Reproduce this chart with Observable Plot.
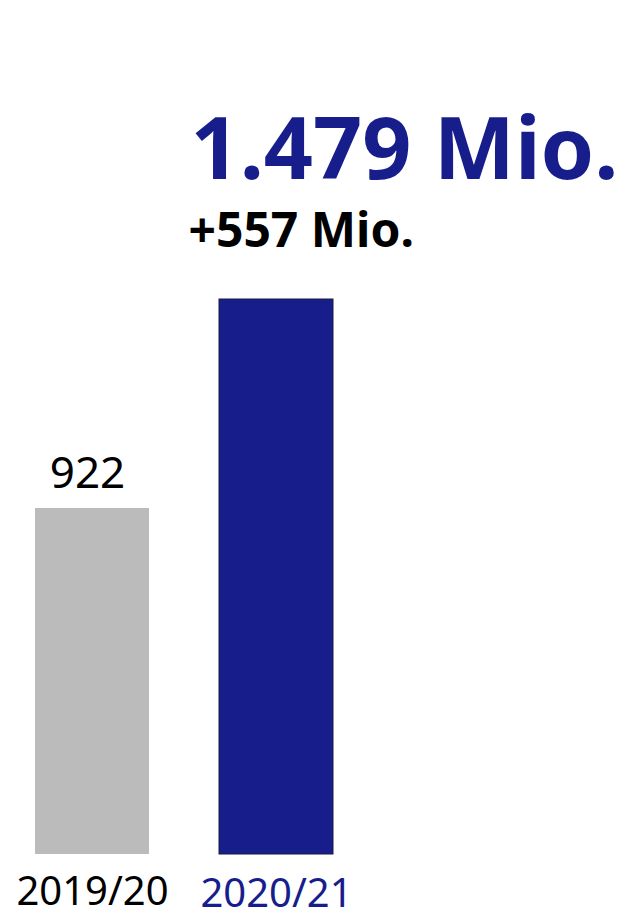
<!DOCTYPE html>
<html>
<head>
<meta charset="utf-8">
<script src="https://cdn.jsdelivr.net/npm/d3@7"></script>
<script src="https://cdn.jsdelivr.net/npm/@observablehq/plot@0.6"></script>
<style>
  html, body { margin: 0; padding: 0; background: #fff; }
  #chart svg { display: block; }
</style>
</head>
<body>
<div id="chart"></div>
<script>
const categories = ["2019/20", "2020/21"];
const values = [922, 1479];
const valueLabels = ["922", ""];
const headline = "1.479 Mio.";
const delta = "+557 Mio.";

const data = categories.map((c, i) => ({ year: c, value: values[i], label: valueLabels[i] }));
const blue = "#171e8c";
const gray = "#bbbbbc";

const chart = Plot.plot({
  width: 623,
  height: 913,
  margin: 0,
  style: { fontFamily: "'Noto Sans', 'Open Sans', sans-serif", background: "#fff" },
  x: { type: "band", domain: categories, range: [35, 333.5], paddingInner: 0.382, paddingOuter: 0, align: 0, axis: null },
  y: { domain: [0, 1479], range: [854, 299], axis: null },
  marks: [
    Plot.barY(data.slice(0, 1), { x: "year", y: "value", fill: gray }),
    Plot.barY(data.slice(1), { x: "year", y: "value", fill: blue, stroke: "#1b1b3a", strokeWidth: 1 }),
    Plot.text(data.filter(d => d.label), { x: "year", y: "value", text: "label", lineAnchor: "bottom", dx: -5, dy: -21, fontSize: 44, fill: "#000" }),
    Plot.text(data.slice(0, 1), { x: "year", y: 0, text: "year", lineAnchor: "bottom", dy: 50, fontSize: 40, fill: "#000" }),
    Plot.text(data.slice(1), { x: "year", y: 0, text: "year", lineAnchor: "bottom", dy: 52, fontSize: 40, fill: blue }),
    Plot.text(data.slice(1), { x: "year", y: "value", text: () => headline, textAnchor: "start", lineAnchor: "bottom", dx: -86, dy: -121, fontSize: 86, fontWeight: "bold", fill: blue }),
    Plot.text(data.slice(1), { x: "year", y: "value", text: () => delta, textAnchor: "start", lineAnchor: "bottom", dx: -88, dy: -53, fontSize: 48, fontWeight: "bold", fill: "#000" })
  ]
});
document.getElementById("chart").appendChild(chart);
</script>
</body>
</html>
